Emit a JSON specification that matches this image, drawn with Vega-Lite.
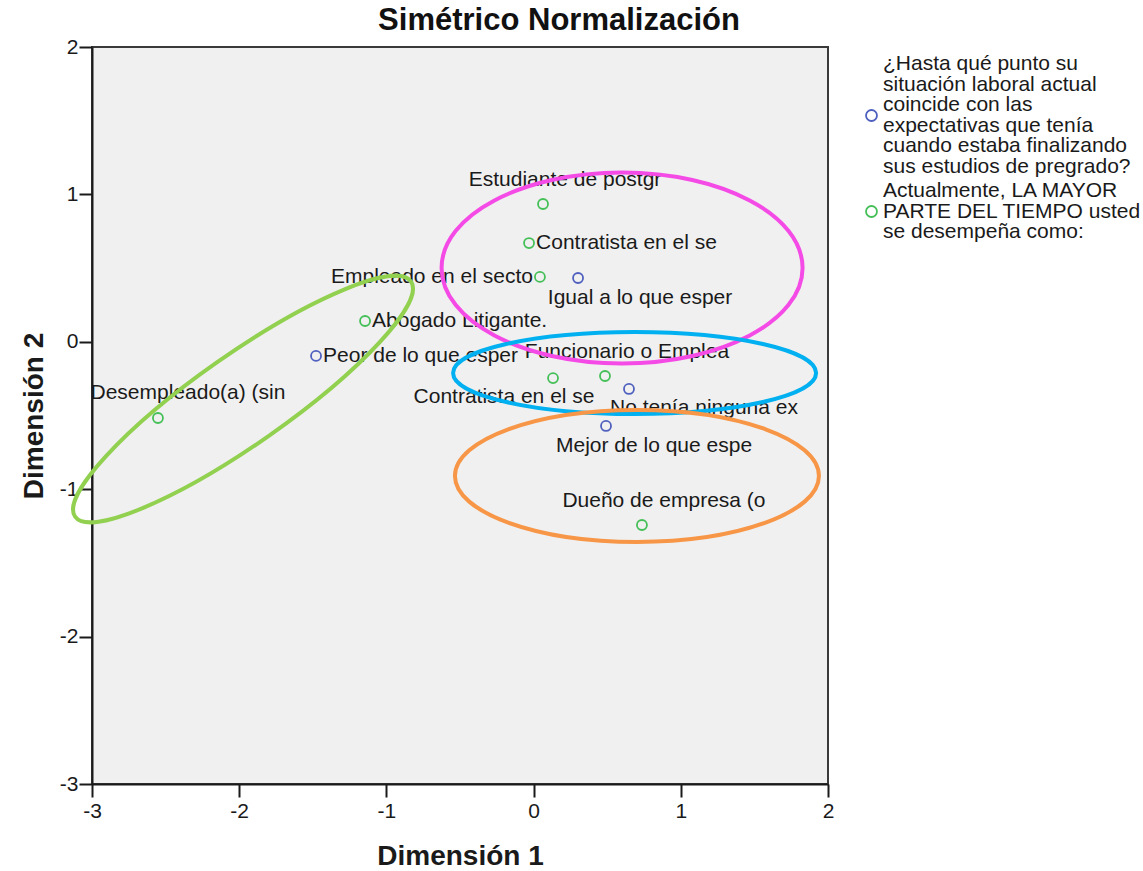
{
  "$schema": "https://vega.github.io/schema/vega-lite/v6.json",
  "autosize": {"type": "none"},
  "width": 736,
  "height": 737,
  "padding": {"left": 92, "top": 47, "right": 315, "bottom": 87},
  "background": "white",
  "config": {
    "font": "Liberation Sans",
    "view": {"fill": "#F0F0F0", "stroke": "#3a3a3a", "strokeWidth": 2},
    "axis": {
      "grid": false,
      "domainColor": "#1a1a1a",
      "domainWidth": 2,
      "tickColor": "#1a1a1a",
      "tickWidth": 2,
      "tickSize": 13,
      "labelFont": "Liberation Sans",
      "labelFontSize": 21,
      "labelColor": "#1a1a1a",
      "titleFont": "Liberation Sans",
      "titleFontSize": 28,
      "titleFontWeight": "bold",
      "titleColor": "#1a1a1a"
    }
  },
  "title": {
    "text": "Simétrico Normalización",
    "font": "Liberation Sans",
    "fontSize": 31,
    "fontWeight": "bold",
    "color": "#111111",
    "anchor": "middle",
    "frame": "group",
    "dx": 99,
    "dy": 39,
    "offset": 14,
    "baseline": "alphabetic"
  },
  "datasets": {
    "puntos": [
      {"etiqueta": "Estudiante de postgr", "pregunta": "Actualmente, LA MAYOR PARTE DEL TIEMPO usted se desempeña como:", "dim1": 0.064, "dim2": 0.935},
      {"etiqueta": "Contratista en el se", "pregunta": "Actualmente, LA MAYOR PARTE DEL TIEMPO usted se desempeña como:", "dim1": -0.031, "dim2": 0.670},
      {"etiqueta": "Empleado en el secto", "pregunta": "Actualmente, LA MAYOR PARTE DEL TIEMPO usted se desempeña como:", "dim1": 0.043, "dim2": 0.440},
      {"etiqueta": "Abogado Litigante.", "pregunta": "Actualmente, LA MAYOR PARTE DEL TIEMPO usted se desempeña como:", "dim1": -1.145, "dim2": 0.141},
      {"etiqueta": "Desempleado(a) (sin", "pregunta": "Actualmente, LA MAYOR PARTE DEL TIEMPO usted se desempeña como:", "dim1": -2.552, "dim2": -0.517},
      {"etiqueta": "Contratista en el se", "pregunta": "Actualmente, LA MAYOR PARTE DEL TIEMPO usted se desempeña como:", "dim1": 0.132, "dim2": -0.246},
      {"etiqueta": "Funcionario o Emplea", "pregunta": "Actualmente, LA MAYOR PARTE DEL TIEMPO usted se desempeña como:", "dim1": 0.485, "dim2": -0.232},
      {"etiqueta": "Dueño de empresa (o", "pregunta": "Actualmente, LA MAYOR PARTE DEL TIEMPO usted se desempeña como:", "dim1": 0.736, "dim2": -1.243},
      {"etiqueta": "Igual a lo que esper", "pregunta": "¿Hasta qué punto su situación laboral actual coincide con las expectativas que tenía cuando estaba finalizando sus estudios de pregrado?", "dim1": 0.302, "dim2": 0.433},
      {"etiqueta": "Peor de lo que esper", "pregunta": "¿Hasta qué punto su situación laboral actual coincide con las expectativas que tenía cuando estaba finalizando sus estudios de pregrado?", "dim1": -1.478, "dim2": -0.096},
      {"etiqueta": "No tenía ninguna ex", "pregunta": "¿Hasta qué punto su situación laboral actual coincide con las expectativas que tenía cuando estaba finalizando sus estudios de pregrado?", "dim1": 0.648, "dim2": -0.320},
      {"etiqueta": "Mejor de lo que espe", "pregunta": "¿Hasta qué punto su situación laboral actual coincide con las expectativas que tenía cuando estaba finalizando sus estudios de pregrado?", "dim1": 0.492, "dim2": -0.571}
    ],
    "elipses": [
      {"grupo": "rosa", "dim1": 0.601, "dim2": 0.501},
      {"grupo": "azul", "dim1": 0.686, "dim2": -0.212},
      {"grupo": "naranja", "dim1": 0.702, "dim2": -0.910},
      {"grupo": "verde", "dim1": -1.974, "dim2": -0.388}
    ]
  },
  "data": {"name": "puntos"},
  "encoding": {
    "x": {
      "field": "dim1",
      "type": "quantitative",
      "scale": {"domain": [-3, 2], "nice": false, "zero": false},
      "axis": {"values": [-3, -2, -1, 0, 1, 2], "labelExpr": "'' + datum.value", "title": "Dimensión 1", "labelPadding": 3, "titlePadding": 21, "labelFlush": false}
    },
    "y": {
      "field": "dim2",
      "type": "quantitative",
      "scale": {"domain": [-3, 2], "nice": false, "zero": false},
      "axis": {"values": [-3, -2, -1, 0, 1, 2], "labelExpr": "'' + datum.value", "title": "Dimensión 2", "labelPadding": 1, "titlePadding": 11, "labelFlush": false}
    }
  },
  "layer": [
    {
      "mark": {"type": "point", "shape": "circle", "filled": false, "size": 100, "strokeWidth": 1.8, "opacity": 1},
      "encoding": {
        "color": {
          "field": "pregunta",
          "type": "nominal",
          "scale": {
            "domain": [
              "¿Hasta qué punto su situación laboral actual coincide con las expectativas que tenía cuando estaba finalizando sus estudios de pregrado?",
              "Actualmente, LA MAYOR PARTE DEL TIEMPO usted se desempeña como:"
            ],
            "range": ["#4F60BE", "#45BF57"]
          },
          "legend": {
            "title": null,
            "orient": "none",
            "legendX": 769,
            "legendY": 58,
            "padding": 0,
            "labelFont": "Liberation Sans",
            "labelFontSize": 21,
            "labelColor": "#1a1a1a",
            "labelLimit": 400,
            "labelOffset": 1,
            "labelBaseline": "middle",
            "symbolType": "circle",
            "symbolSize": 120,
            "symbolStrokeWidth": 1.8,
            "symbolFillColor": "transparent",
            "rowPadding": 3,
            "labelExpr": "datum.value == 'Actualmente, LA MAYOR PARTE DEL TIEMPO usted se desempeña como:' ? ['Actualmente, LA MAYOR', 'PARTE DEL TIEMPO usted', 'se desempeña como:'] : ['¿Hasta qué punto su', 'situación laboral actual', 'coincide con las', 'expectativas que tenía', 'cuando estaba finalizando', 'sus estudios de pregrado?']",
            "encoding": {
              "labels": {
                "lineHeight": {"value": 20.5},
                "dy": {"value": {"expr": "datum.value == 'Actualmente, LA MAYOR PARTE DEL TIEMPO usted se desempeña como:' ? -20.5 : -51.25"}}
              }
            }
          }
        }
      }
    },
    {
      "transform": [{"filter": "(datum.etiqueta == 'Contratista en el se' && datum.dim2 > 0) || datum.etiqueta == 'Abogado Litigante.' || datum.etiqueta == 'Peor de lo que esper'"}],
      "mark": {"type": "text", "align": "left", "baseline": "middle", "dx": 7, "fontSize": 21, "font": "Liberation Sans", "color": "#1a1a1a"},
      "encoding": {"text": {"field": "etiqueta"}}
    },
    {
      "transform": [{"filter": "datum.etiqueta == 'Empleado en el secto'"}],
      "mark": {"type": "text", "align": "right", "baseline": "middle", "dx": -7, "fontSize": 21, "font": "Liberation Sans", "color": "#1a1a1a"},
      "encoding": {"text": {"field": "etiqueta"}}
    },
    {
      "transform": [{"filter": "datum.etiqueta == 'Estudiante de postgr' || datum.etiqueta == 'Funcionario o Emplea' || datum.etiqueta == 'Dueño de empresa (o'"}],
      "mark": {"type": "text", "align": "center", "baseline": "middle", "dx": 22, "dy": -24, "fontSize": 21, "font": "Liberation Sans", "color": "#1a1a1a"},
      "encoding": {"text": {"field": "etiqueta"}}
    },
    {
      "transform": [{"filter": "datum.etiqueta == 'Desempleado(a) (sin'"}],
      "mark": {"type": "text", "align": "center", "baseline": "middle", "dx": 30, "dy": -25, "fontSize": 21, "font": "Liberation Sans", "color": "#1a1a1a"},
      "encoding": {"text": {"field": "etiqueta"}}
    },
    {
      "transform": [{"filter": "datum.etiqueta == 'Igual a lo que esper'"}],
      "mark": {"type": "text", "align": "center", "baseline": "middle", "dx": 62, "dy": 20, "fontSize": 21, "font": "Liberation Sans", "color": "#1a1a1a"},
      "encoding": {"text": {"field": "etiqueta"}}
    },
    {
      "transform": [{"filter": "datum.etiqueta == 'Mejor de lo que espe'"}],
      "mark": {"type": "text", "align": "center", "baseline": "middle", "dx": 48, "dy": 20, "fontSize": 21, "font": "Liberation Sans", "color": "#1a1a1a"},
      "encoding": {"text": {"field": "etiqueta"}}
    },
    {
      "transform": [{"filter": "datum.etiqueta == 'No tenía ninguna ex'"}],
      "mark": {"type": "text", "align": "center", "baseline": "middle", "dx": 75, "dy": 19, "fontSize": 21, "font": "Liberation Sans", "color": "#1a1a1a"},
      "encoding": {"text": {"field": "etiqueta"}}
    },
    {
      "transform": [{"filter": "datum.etiqueta == 'Contratista en el se' && datum.dim2 < 0"}],
      "mark": {"type": "text", "align": "center", "baseline": "middle", "dx": -49, "dy": 19, "fontSize": 21, "font": "Liberation Sans", "color": "#1a1a1a"},
      "encoding": {"text": {"field": "etiqueta"}}
    },
    {
      "data": {"name": "elipses"},
      "transform": [{"filter": "datum.grupo == 'rosa'"}],
      "mark": {"type": "point", "clip": true, "shape": "M 1 0 C 1 0.2922 0.5523 0.529 0 0.529 C -0.5523 0.529 -1 0.2922 -1 0 C -1 -0.2922 -0.5523 -0.529 0 -0.529 C 0.5523 -0.529 1 -0.2922 1 0 Z", "size": 130321, "filled": false, "stroke": "#F54BE6", "strokeWidth": 4, "opacity": 1}
    },
    {
      "data": {"name": "elipses"},
      "transform": [{"filter": "datum.grupo == 'azul'"}],
      "mark": {"type": "point", "clip": true, "shape": "M 1 0 C 1 0.1248 0.5523 0.2259 0 0.2259 C -0.5523 0.2259 -1 0.1248 -1 0 C -1 -0.1248 -0.5523 -0.2259 0 -0.2259 C 0.5523 -0.2259 1 -0.1248 1 0 Z", "size": 131769, "filled": false, "stroke": "#00B0F0", "strokeWidth": 4, "opacity": 1}
    },
    {
      "data": {"name": "elipses"},
      "transform": [{"filter": "datum.grupo == 'naranja'"}],
      "mark": {"type": "point", "clip": true, "shape": "M 1 0 C 1 0.2003 0.5523 0.3626 0 0.3626 C -0.5523 0.3626 -1 0.2003 -1 0 C -1 -0.2003 -0.5523 -0.3626 0 -0.3626 C 0.5523 -0.3626 1 -0.2003 1 0 Z", "size": 132496, "filled": false, "stroke": "#F79646", "strokeWidth": 4, "opacity": 1}
    },
    {
      "data": {"name": "elipses"},
      "transform": [{"filter": "datum.grupo == 'verde'"}],
      "mark": {"type": "point", "shape": "M 0.8192 -0.5736 C 0.8887 -0.4743 0.5783 -0.1370 0.1259 0.1798 C -0.3265 0.4966 -0.7496 0.6729 -0.8192 0.5736 C -0.8887 0.4743 -0.5783 0.1370 -0.1259 -0.1798 C 0.3265 -0.4966 0.7496 -0.6729 0.8192 -0.5736 Z", "size": 168100, "filled": false, "stroke": "#92D050", "strokeWidth": 4, "opacity": 1}
    }
  ]
}
